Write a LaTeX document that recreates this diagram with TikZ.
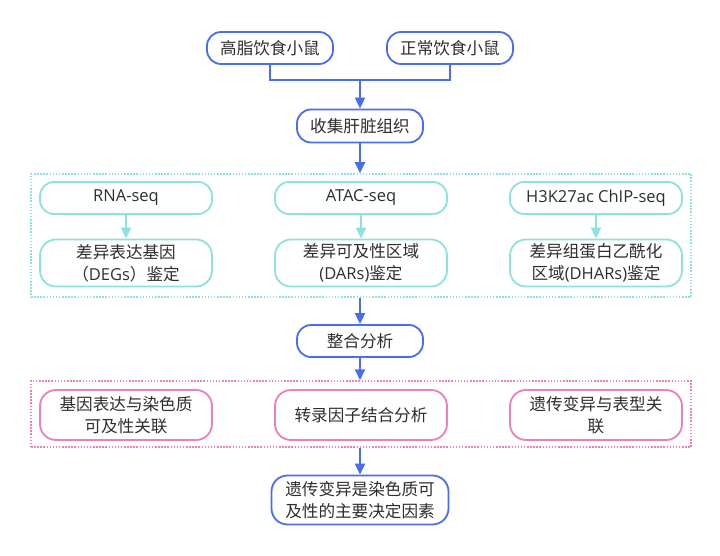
\documentclass[tikz,border=0pt]{standalone}
\usepackage{fontspec}
\setmainfont{Noto Sans CJK SC}
\newfontfamily\latf{Open Sans}
\newcommand{\lt}[1]{{\latf\fontsize{16.5}{22}\selectfont #1}}
\usetikzlibrary{arrows.meta}
\definecolor{mblue}{HTML}{4A6CEE}
\definecolor{mcyan}{HTML}{8EE2DE}
\definecolor{mpink}{HTML}{EC80B8}
\definecolor{mtext}{HTML}{2E2E2E}
\tikzset{
  base/.style={rounded corners=14pt, line width=1.8pt, align=center, text=mtext,
    font=\fontsize{16.6}{22}\selectfont, inner sep=0pt},
  bluebox/.style={base, draw=mblue, fill=white},
  cyanbox/.style={base, draw=mcyan, fill=white},
  pinkbox/.style={base, draw=mpink, fill=white},
  barrow/.style={draw=mblue, line width=1.8pt, -{Triangle[length=11pt,width=10pt]}},
  bline/.style={draw=mblue, line width=1.8pt},
  carrow/.style={draw=mcyan, line width=1.8pt, -{Triangle[length=11pt,width=10pt]}},
  cgroup/.style={draw=mcyan, line width=1.5pt, dash pattern=on 1.5pt off 1.6pt, inner sep=0pt},
  pgroup/.style={draw=mpink, line width=1.5pt, dash pattern=on 1.5pt off 1.6pt, inner sep=0pt},
}
\begin{document}
\begin{tikzpicture}[x=1pt,y=-1pt]
\useasboundingbox[fill=white] (0,0) rectangle (720,556);
% groups
\node[cgroup, minimum width=660pt, minimum height=123pt] (g1) at (361,235.5) {};
\node[pgroup, minimum width=660pt, minimum height=66pt] (g2) at (361,414) {};
% top
\node[bluebox, minimum width=126pt, minimum height=32pt] (a1) at (270,48) {高脂饮食小鼠};
\node[bluebox, minimum width=126pt, minimum height=32pt] (a2) at (450,48) {正常饮食小鼠};
\node[bluebox, minimum width=126pt, minimum height=33pt] (b) at (360,126) {收集肝脏组织};
\coordinate (jc) at (360,80);
\draw[bline] (a1.south) |- (jc) -| (a2.south);
\draw[barrow] (jc) -- (b.north);
% cyan row
\node[cyanbox, minimum width=172pt, minimum height=32pt] (c1) at (126,198) {\lt{RNA-seq}};
\node[cyanbox, minimum width=172pt, minimum height=32pt] (c2) at (361,198) {\lt{ATAC-seq}};
\node[cyanbox, minimum width=172pt, minimum height=32pt] (c3) at (596,198) {\lt{H3K27ac ChIP-seq}};
\node[cyanbox, rounded corners=16pt, minimum width=172pt, minimum height=47pt] (d1) at (126,263) {差异表达基因\\（\lt{DEGs}）鉴定};
\node[cyanbox, rounded corners=16pt, minimum width=172pt, minimum height=47pt] (d2) at (361,263) {差异可及性区域\\\lt{(DARs)}鉴定};
\node[cyanbox, rounded corners=16pt, minimum width=172pt, minimum height=47pt] (d3) at (596,263) {差异组蛋白乙酰化\\区域\lt{(DHARs)}鉴定};
\draw[carrow] (c1) -- (d1);
\draw[carrow] (c2) -- (d2);
\draw[carrow] (c3) -- (d3);
\draw[barrow] (b.south) -- (b.south |- g1.north);
% integrate
\node[bluebox, minimum width=126pt, minimum height=32pt] (e) at (360,341) {整合分析};
\draw[barrow] (e.north |- g1.south) -- (e.north);
\draw[barrow] (e.south) -- (e.south |- g2.north);
% pink row
\node[pinkbox, rounded corners=16pt, minimum width=172pt, minimum height=50pt] (f1) at (126,415) {基因表达与染色质\\可及性关联};
\node[pinkbox, rounded corners=16pt, minimum width=172pt, minimum height=50pt] (f2) at (361,415) {转录因子结合分析};
\node[pinkbox, rounded corners=16pt, minimum width=172pt, minimum height=50pt] (f3) at (596,415) {遗传变异与表型关\\联};
% final
\node[bluebox, rounded corners=16pt, minimum width=177pt, minimum height=49pt] (h) at (360,500) {遗传变异是染色质可\\及性的主要决定因素};
\draw[barrow] (h.north |- g2.south) -- (h.north);
\end{tikzpicture}
\end{document}
